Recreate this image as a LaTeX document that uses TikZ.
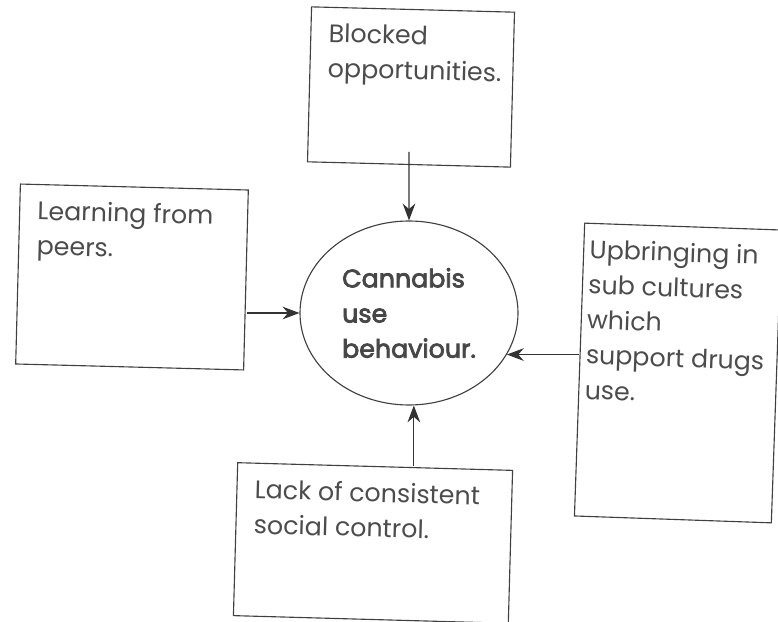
\documentclass[tikz,border=0pt]{standalone}
\usepackage{fontspec}
\setmainfont{Poppins}
\newfontfamily\behaviourfont[FakeBold=3]{Poppins}
\usetikzlibrary{arrows.meta,shapes.geometric}

\begin{document}
\begin{tikzpicture}[>={Stealth[length=12pt,width=9pt]},font=\fontsize{18}{25}\selectfont]

    % Define node styles
    \tikzstyle{factor_block} = [draw=black!75, line width=0.8pt, text=black!70, inner xsep=0.45cm, inner ysep=0.4cm, align=left]
    \tikzstyle{behaviour_block} = [draw=black!75, line width=0.8pt, ellipse, minimum width=5.45cm, minimum height=4.6cm, inner sep=0pt, text=black!72, align=left, font=\fontsize{18}{25}\behaviourfont]

    \useasboundingbox (0,0) rectangle (19.45,15.525);

    % Draw nodes
    \node [behaviour_block] (cannabis) at (10.225,7.7) {Cannabis\\use\\behaviour.};
    \node [factor_block, rotate=-1.5] (blocked) at (10.275,13.35) {\parbox[t][3.075cm][t]{4.175cm}{Blocked\\opportunities.}};
    \node [factor_block, rotate=-1.5] (learning) at (3.3,8.6) {\parbox[t][3.7cm][t]{4.8cm}{Learning from\\peers.}};
    \node [factor_block, rotate=-2, inner xsep=0.15cm] (upbringing) at (16.95,6.2) {\parbox[t][6.525cm][t]{4.625cm}{Upbringing in\\sub cultures\\which\\support drugs\\use.}};
    \node [factor_block, rotate=-1.6] (lack) at (9.325,1.95) {\parbox[t][3.025cm][t]{5.975cm}{Lack of consistent\\social control.}};

    % Draw arrows
    \draw [->, black!80, line width=0.8pt] ([yshift=0.33cm]blocked.south) -- (cannabis.north);
    \draw [->, black!80, line width=0.8pt] (learning.east |- cannabis.west) -- (cannabis.west);
    \draw [->, black!80, line width=0.8pt] (upbringing.west |- cannabis.-23) -- (cannabis.-23);
    \draw [->, black!80, line width=0.8pt] (lack.north -| cannabis.-87) -- (cannabis.-87);

\end{tikzpicture}
\end{document}
